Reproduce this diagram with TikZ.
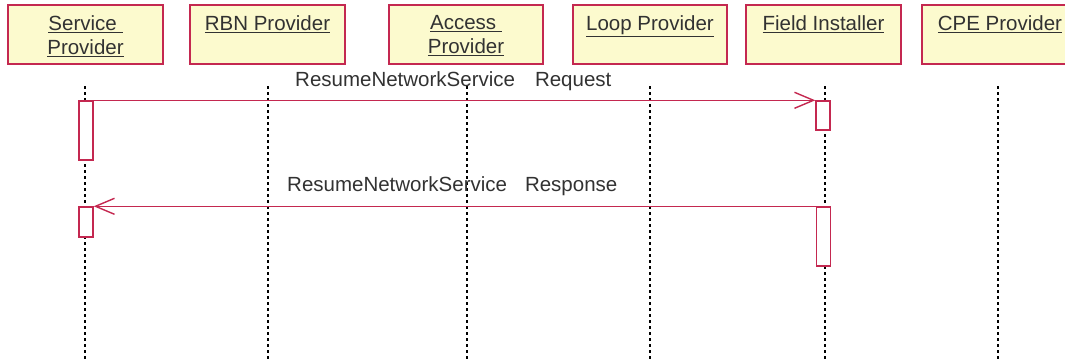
\documentclass[tikz,border=0pt]{standalone}
\usepackage{fontspec}
\setmainfont{Liberation Sans}
\usetikzlibrary{arrows.meta}
\definecolor{umlred}{RGB}{196,40,80}
\definecolor{umlfill}{RGB}{252,250,206}
\definecolor{umltext}{RGB}{50,50,50}
\tikzset{
  actor/.style={draw=umlred, fill=umlfill, line width=1.6pt, rectangle, minimum height=59pt, inner sep=0pt},
  lbl/.style={anchor=north, align=center, text=umltext, font=\fontsize{20.5pt}{24pt}\selectfont, inner sep=0pt},
  lifeline/.style={draw=black, line width=1.5pt, dash pattern=on 3pt off 3pt},
  act/.style={draw=umlred, fill=white, line width=1.4pt, rectangle, minimum width=14pt, inner sep=0pt},
  msg/.style={draw=umlred, line width=1.4pt, -{Straight Barb[length=19pt,width=16pt,line width=1.4pt]}},
  msglbl/.style={anchor=base west, text=umltext, font=\fontsize{20.5pt}{24pt}\selectfont, inner sep=0pt}
}
\begin{document}
\begin{tikzpicture}[x=1pt,y=-1pt]
\useasboundingbox (0,0) rectangle (1065,360);
\clip (0,0) rectangle (1065,360);
% actor boxes
\node[actor, minimum width=155pt] (b1) at (85.5,34.5) {};
\node[actor, minimum width=155pt] (b2) at (267.5,34.5) {};
\node[actor, minimum width=154pt] (b3) at (466,34.5) {};
\node[actor, minimum width=154pt] (b4) at (650,34.5) {};
\node[actor, minimum width=155pt] (b5) at (823.5,34.5) {};
\node[actor, minimum width=156pt] (b6) at (1000,34.5) {};
\node[lbl] (t1) at ([yshift=-11pt]b1.north) {\underline{Service\ }\\\underline{Provider}};
\node[lbl] (t2) at ([yshift=-11pt]b2.north) {\underline{RBN Provider}};
\node[lbl] (t3) at ([yshift=-11pt]b3.north) {\underline{Access\ }\\\underline{Provider}};
\node[lbl] (t4) at ([yshift=-11pt]b4.north) {\underline{Loop Provider}};
\node[lbl] (t5) at ([yshift=-11pt]b5.north) {\underline{Field Installer}};
\node[lbl] (t6) at ([yshift=-11pt]b6.north) {\underline{CPE Provider}};
% lifelines
\coordinate (l1a) at (85,86);  \coordinate (l1b) at (85,360);
\coordinate (l2a) at (268,86); \coordinate (l2b) at (268,360);
\coordinate (l3a) at (467,86); \coordinate (l3b) at (467,360);
\coordinate (l4a) at (650,86); \coordinate (l4b) at (650,360);
\coordinate (l5a) at (825,86); \coordinate (l5b) at (825,360);
\coordinate (l6a) at (998,86); \coordinate (l6b) at (998,360);
\draw[lifeline] (l1a) -- (l1b);
\draw[lifeline] (l2a) -- (l2b);
\draw[lifeline] (l3a) -- (l3b);
\draw[lifeline] (l4a) -- (l4b);
\draw[lifeline] (l5a) -- (l5b);
\draw[lifeline] (l6a) -- (l6b);
% activations
\node[act, minimum height=59pt] (sa1) at (86,130.5) {};
\node[act, minimum height=29pt] (fa1) at (823,115.5) {};
\node[act, minimum height=30pt] (sa2) at (86,222) {};
\node[act, minimum height=59pt] (fa2) at (823.5,236.5) {};
% messages
\draw[msg] (sa1.north east) -- (fa1.north west);
\node[msglbl] (m1) at (295,86) {ResumeNetworkService\hspace{20pt}Request};
\draw[msg] (fa2.north west) -- (sa2.north east);
\node[msglbl] (m2) at (287,191) {ResumeNetworkService\hspace{18pt}Response};
\end{tikzpicture}
\end{document}
